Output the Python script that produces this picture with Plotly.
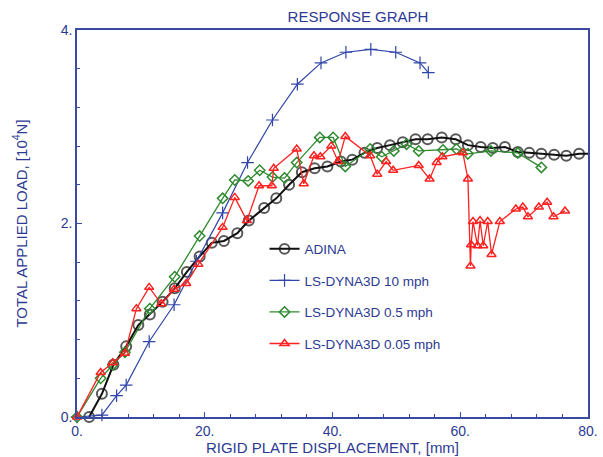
import plotly.graph_objects as go

# ---- data ----
adina_x = [1.9, 3.9, 5.7, 7.7, 9.6, 11.4, 13.4, 15.3, 17.2, 19.2, 21.1, 23.0, 25.1, 26.9,
           29.3, 31.2, 33.2, 35.2, 37.2, 39.2, 41.3, 43.1, 45.0, 47.0, 49.0, 51.0, 53.0,
           54.9, 57.1, 59.3, 61.2, 63.2, 65.1, 67.0, 69.0, 70.8, 72.7, 74.7, 76.6, 78.6, 80.0]
adina_y = [0.0, 0.24, 0.54, 0.73, 0.95, 1.06, 1.19, 1.33, 1.50, 1.66, 1.80, 1.82, 1.90, 2.03,
           2.16, 2.26, 2.40, 2.53, 2.57, 2.59, 2.64, 2.66, 2.73, 2.78, 2.81, 2.84, 2.87,
           2.87, 2.89, 2.87, 2.81, 2.79, 2.78, 2.79, 2.74, 2.73, 2.72, 2.71, 2.70, 2.72, 2.72]

dyna10_x = [0.0, 3.9, 6.2, 7.7, 11.3, 15.2, 18.7, 22.8, 26.7, 30.6, 34.5, 38.2, 42.1, 46.0, 49.9, 53.7, 55.0]
dyna10_y = [0.0, 0.02, 0.22, 0.33, 0.78, 1.16, 1.61, 2.11, 2.63, 3.07, 3.44, 3.66, 3.77, 3.80, 3.77, 3.66, 3.56]

dyna05_x = [0.0, 3.7, 5.6, 7.5, 11.4, 15.3, 19.2, 22.8, 24.7, 26.8, 28.6, 30.6, 32.5, 34.4,
            38.0, 40.1, 42.0, 45.9, 47.7, 49.6, 51.6, 53.5, 57.3, 59.4, 61.2, 64.8, 69.0, 72.7]
dyna05_y = [0.0, 0.40, 0.54, 0.67, 1.12, 1.45, 1.87, 2.26, 2.45, 2.44, 2.55, 2.48, 2.47, 2.63,
            2.89, 2.89, 2.59, 2.77, 2.69, 2.75, 2.82, 2.75, 2.76, 2.77, 2.72, 2.75, 2.73, 2.58]

dyna005_x = [0.0, 3.7, 5.6, 7.5, 9.3, 11.3, 13.2, 15.2, 17.1, 19.0, 22.8, 24.7, 26.6, 28.5,
             30.5, 30.8, 34.4, 35.5, 37.1, 38.1, 39.8, 40.9, 42.0, 45.9, 47.0, 48.4, 49.5,
             53.5, 55.2, 56.3, 57.2, 60.4, 61.2, 61.6, 61.7, 62.0, 62.7, 63.1, 63.6, 64.3,
             64.9, 66.2, 68.7, 69.8, 70.6, 72.3, 73.6, 74.6, 76.4]
dyna005_y = [0.0, 0.46, 0.56, 0.66, 1.12, 1.34, 1.17, 1.32, 1.38, 1.58, 1.96, 2.27, 2.03, 2.39,
             2.39, 2.57, 2.77, 2.41, 2.70, 2.69, 2.80, 2.64, 2.90, 2.70, 2.51, 2.64, 2.55,
             2.60, 2.46, 2.63, 2.69, 2.73, 2.46, 1.56, 1.78, 2.02, 1.77, 2.03, 1.77, 2.02,
             1.68, 2.02, 2.15, 2.17, 2.07, 2.17, 2.22, 2.07, 2.13]

x_tickvals = [0, 20, 40, 60, 80]
x_ticktext = ["0.", "20.", "40.", "60.", "80."]
y_tickvals = [0, 2, 4]
y_ticktext = ["0.", "2.", "4."]

names = ["ADINA", "LS-DYNA3D 10 mph", "LS-DYNA3D 0.5 mph", "LS-DYNA3D 0.05 mph"]

NAVY = "#2c3a93"
FONT = "Liberation Sans, Arial, sans-serif"

fig = go.Figure()

adina_sizes = [10] * (len(adina_x) - 1) + [0]
fig.add_trace(go.Scatter(
    x=adina_x, y=adina_y, name=names[0], mode="lines+markers", legendgroup="a",
    line=dict(color="#111111", width=2),
    marker=dict(symbol="circle-open", size=adina_sizes, color="#111111", line=dict(width=2)),
    cliponaxis=False))
fig.add_trace(go.Scatter(
    x=dyna10_x, y=dyna10_y, name=names[1], mode="lines+markers", legendgroup="b",
    line=dict(color="#3045a8", width=1.2),
    marker=dict(symbol="cross-thin-open", size=9, color="#3045a8", line=dict(width=1.2, color="#3045a8")),
    cliponaxis=False))
fig.add_trace(go.Scatter(
    x=dyna05_x, y=dyna05_y, name=names[2], mode="lines+markers", legendgroup="c",
    line=dict(color="#2f8a2f", width=1.3),
    marker=dict(symbol="diamond-open", size=8, color="#2f8a2f", line=dict(width=1.5, color="#2f8a2f")),
    cliponaxis=False))
fig.add_trace(go.Scatter(
    x=dyna005_x, y=dyna005_y, name=names[3], mode="lines+markers", legendgroup="d",
    line=dict(color="#ff2020", width=1.3),
    marker=dict(symbol="triangle-up-open", size=8, color="#ff2020", line=dict(width=1.5, color="#ff2020")),
    cliponaxis=False))

axis_common = dict(
    showline=True, linecolor="#3a4aa0", linewidth=1.5, mirror=True, automargin=False,
    showgrid=False, zeroline=False, ticks="inside", ticklen=5, tickcolor="#3a4aa0",
    tickfont=dict(family=FONT, size=14, color=NAVY),
)

fig.update_layout(
    width=603, height=457,
    margin=dict(l=77, r=15, t=30, b=40),
    paper_bgcolor="white", plot_bgcolor="white",
    title=dict(text="RESPONSE GRAPH", x=358 / 603, xanchor="center", y=1 - 17 / 457, yanchor="middle",
               font=dict(family=FONT, size=15, color=NAVY)),
    xaxis=dict(range=[0, 80], tickvals=x_tickvals, ticktext=x_ticktext,
               minor=dict(dtick=4, ticks="inside", ticklen=3, tickcolor="#3a4aa0"),
               title=dict(text="RIGID PLATE DISPLACEMENT, [mm]", standoff=4,
                          font=dict(family=FONT, size=15, color=NAVY)),
               **axis_common),
    yaxis=dict(range=[0, 4], tickvals=y_tickvals, ticktext=y_ticktext,
               minor=dict(dtick=0.4, ticks="inside", ticklen=3, tickcolor="#3a4aa0"),
               title=dict(text="TOTAL APPLIED LOAD, [10<sup>4</sup>N]", standoff=30,
                          font=dict(family=FONT, size=15, color=NAVY)),
               **axis_common),
    legend=dict(x=0.367, y=0.474, xanchor="left", yanchor="top", bgcolor="rgba(0,0,0,0)",
                font=dict(family=FONT, size=13.5, color=NAVY), tracegroupgap=11,
                itemwidth=30),
    showlegend=True,
)

fig.write_html("out.html", config={"displayModeBar": False},
               post_script="document.body.style.margin='0';")
